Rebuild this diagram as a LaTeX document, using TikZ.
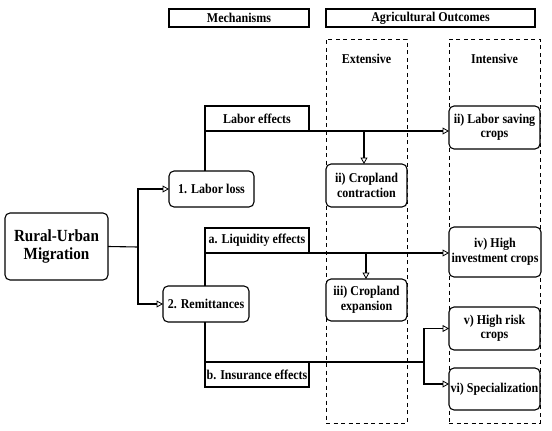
\documentclass[tikz,border=0pt]{standalone}
\usepackage{fontspec}
\setmainfont{Liberation Serif}[FakeStretch=0.89]
\usetikzlibrary{arrows.meta}
\begin{document}
\begin{tikzpicture}[x=1pt,y=-1pt,
  every node/.style={font=\bfseries\fontsize{13.5}{14.5}\selectfont, align=center, inner sep=0pt, outer sep=0pt},
  headbox/.style={draw, line width=1.5pt},
  effbox/.style={draw, line width=1.1pt, fill=white},
  rbox/.style={draw, rounded corners=5pt, line width=1.1pt, fill=white},
  dbox/.style={draw, line width=1pt, dash pattern=on 4pt off 3.5pt},
  conn/.style={line width=1.1pt},
  arr/.style={line width=1.1pt, -{Triangle[open, length=6.5pt, width=7pt, line width=0.8pt]}}]
\useasboundingbox (0,0) rectangle (552,431);
% column frames
\node[dbox, minimum width=81pt, minimum height=384pt] (ext) at (366.5,231) {};
\node[dbox, minimum width=91pt, minimum height=384pt] (int) at (494.5,231) {};
\node (extl) at (366.5,59) {Extensive};
\node (intl) at (494.5,59) {Intensive};
% headers
\node[headbox, minimum width=140pt, minimum height=18pt] (mech) at (239,18) {Mechanisms};
\node[headbox, minimum width=209pt, minimum height=18pt] (agri) at (430.5,18) {Agricultural Outcomes};
% main boxes
\node[rbox, minimum width=103pt, minimum height=67pt, font=\bfseries\fontsize{17}{18}\selectfont] (rum) at (56.5,246.5) {Rural-Urban\\Migration};
\node[rbox, minimum width=85pt, minimum height=36pt] (loss) at (211.5,189) {1. Labor loss};
\node[rbox, minimum width=86pt, minimum height=36pt] (remit) at (206,304) {2. Remittances};
% effect labels
\node[effbox, minimum width=104pt, minimum height=25pt] (labeff) at (257,118.5) {Labor effects};
\node[effbox, minimum width=104pt, minimum height=25pt] (liqeff) at (257,240.5) {a. Liquidity effects};
\node[effbox, minimum width=104pt, minimum height=25pt] (inseff) at (257,374.5) {b. Insurance effects};
% outcomes
\node[rbox, minimum width=81pt, minimum height=43pt] (contr) at (366.5,185.5) {ii) Cropland\\contraction};
\node[rbox, minimum width=81pt, minimum height=42pt] (expan) at (366.5,300) {iii) Cropland\\expansion};
\node[rbox, minimum width=91pt, minimum height=43pt] (lsave) at (494.5,127.5) {ii) Labor saving\\crops};
\node[rbox, minimum width=92pt, minimum height=50pt] (hinv) at (495,252) {iv) High\\investment crops};
\node[rbox, minimum width=91pt, minimum height=43pt] (hrisk) at (494.5,328.5) {v) High risk\\crops};
\node[rbox, minimum width=91pt, minimum height=42pt] (spec) at (494.5,389) {vi) Specialization};
% junction coordinates
\coordinate (j1) at (138,247);
\coordinate (j2) at (424,362);
\coordinate (d1) at (364,131);
\coordinate (d2) at (366,253);
% connectors from migration
\draw[conn] (rum.east) -- (j1);
\draw[arr] (j1) |- (loss.west);
\draw[arr] (j1) |- (remit.west);
% labor effects
\draw[conn] (loss.north -| labeff.south west) -- (labeff.south west);
\draw[arr] (labeff.south west) -- (labeff.south west -| lsave.west);
\draw[arr] (d1) -- (contr.north -| d1);
% liquidity effects
\draw[conn] (remit.north -| liqeff.south west) -- (liqeff.south west);
\draw[arr] (liqeff.south west) -- (liqeff.south west -| hinv.west);
\draw[arr] (d2) -- (expan.north -| d2);
% insurance effects
\draw[conn] (remit.south -| inseff.north west) -- (inseff.north west) -- (j2);
\draw[arr] (j2) |- (hrisk.west);
\draw[arr] (j2) |- ([yshift=5pt]spec.west);
\end{tikzpicture}
\end{document}
